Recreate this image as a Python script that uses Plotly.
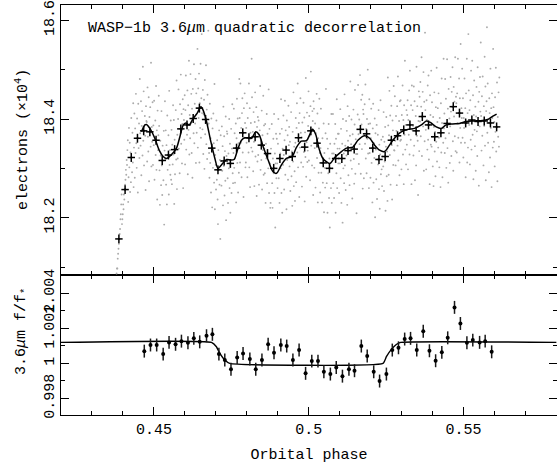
import numpy as np
import plotly.graph_objects as go

# ---------------- data ----------------
bin_phase = [0.4387, 0.4407, 0.4427, 0.4447, 0.4467, 0.4487, 0.4507, 0.4527, 0.4547, 0.4567,
             0.4587, 0.4607, 0.4627, 0.4647, 0.4667, 0.4687, 0.4707, 0.4727, 0.4747, 0.4767,
             0.4787, 0.4807, 0.4827, 0.4847, 0.4867, 0.4887, 0.4907, 0.4927, 0.4947, 0.4967,
             0.4987, 0.5007, 0.5027, 0.5047, 0.5067, 0.5087, 0.5107, 0.5127, 0.5147, 0.5167,
             0.5187, 0.5207, 0.5227, 0.5247, 0.5267, 0.5287, 0.5307, 0.5327, 0.5347, 0.5367,
             0.5387, 0.5407, 0.5427, 0.5447, 0.5467, 0.5487, 0.5507, 0.5527, 0.5547, 0.5567,
             0.5587, 0.5607]
bin_flux = [18.157, 18.257, 18.322, 18.361, 18.376, 18.374, 18.357, 18.316, 18.327, 18.338,
            18.380, 18.388, 18.401, 18.422, 18.399, 18.341, 18.297, 18.315, 18.310, 18.341,
            18.372, 18.362, 18.364, 18.347, 18.330, 18.300, 18.320, 18.337, 18.324, 18.362,
            18.343, 18.376, 18.351, 18.311, 18.300, 18.320, 18.320, 18.336, 18.339, 18.379,
            18.370, 18.341, 18.318, 18.324, 18.357, 18.366, 18.378, 18.388, 18.376, 18.405,
            18.388, 18.364, 18.372, 18.391, 18.425, 18.412, 18.392, 18.398, 18.395, 18.396,
            18.392, 18.384]

curve_phase = [0.4460, 0.4471, 0.4476, 0.4487, 0.4503, 0.4517, 0.4530, 0.4541, 0.4557, 0.4573,
               0.4584, 0.4595, 0.4603, 0.4614, 0.4627, 0.4640, 0.4652, 0.4659, 0.4670, 0.4684,
               0.4697, 0.4707, 0.4718, 0.4735, 0.4748, 0.4759, 0.4770, 0.4783, 0.4794, 0.4815,
               0.4829, 0.4840, 0.4853, 0.4869, 0.4885, 0.4896, 0.4912, 0.4928, 0.4947, 0.4960,
               0.4976, 0.4993, 0.5003, 0.5012, 0.5023, 0.5033, 0.5046, 0.5068, 0.5084, 0.5100,
               0.5122, 0.5143, 0.5159, 0.5181, 0.5197, 0.5213, 0.5229, 0.5245, 0.5261, 0.5277,
               0.5299, 0.5320, 0.5342, 0.5364, 0.5380, 0.5393, 0.5412, 0.5428, 0.5444, 0.5465,
               0.5487, 0.5509, 0.5535, 0.5562, 0.5578, 0.5595, 0.5607]
curve_flux = [18.374, 18.388, 18.389, 18.381, 18.361, 18.337, 18.324, 18.320, 18.328, 18.341,
              18.364, 18.388, 18.392, 18.388, 18.401, 18.412, 18.425, 18.418, 18.395, 18.354,
              18.320, 18.300, 18.307, 18.318, 18.317, 18.318, 18.337, 18.357, 18.362, 18.361,
              18.374, 18.368, 18.344, 18.317, 18.293, 18.290, 18.307, 18.320, 18.324, 18.342,
              18.355, 18.356, 18.368, 18.379, 18.368, 18.341, 18.320, 18.310, 18.322, 18.331,
              18.341, 18.343, 18.357, 18.366, 18.361, 18.347, 18.337, 18.334, 18.347, 18.361,
              18.374, 18.379, 18.381, 18.388, 18.396, 18.393, 18.384, 18.381, 18.388, 18.390,
              18.391, 18.395, 18.396, 18.397, 18.399, 18.406, 18.410]

# individual frames: offsets from the bin value, in units of 0.01 (x 10^4 electrons)
dot_offsets = [
    "-9 -8 -7 -6 -6 -4 -3 -2 -1 0 1 2 4 5 7 9",
    "-7 -6 -5 -3 -4 -1 -2 0 1 2 4 3 6 5 8 10",
    "-9 -4 6 -2 3 -7 1 -5 8 0 -3 5 -1 11 -6 2",
    "5 -8 2 -3 9 -1 -6 4 0 -11 7 -2 3 -4 12 1",
    "-3 6 -9 1 4 -5 13 -2 8 -7 0 3 -1 -12 5 2",
    "2 -6 9 -1 -4 7 -10 3 0 5 -3 14 -7 1 -2 6",
    "-5 3 -1 8 -8 0 4 -3 11 -6 2 -12 6 -2 1 9",
    "7 -2 -9 4 1 -5 10 -1 -7 3 0 -4 6 -13 2 12",
    "-1 5 -6 2 -10 8 -3 0 4 -8 13 -2 1 -4 7 -5",
    "4 -7 1 -3 9 -1 6 -11 2 -5 0 8 -2 14 -8 3",
    "-6 2 8 -4 0 -9 5 -1 11 -3 3 -7 1 6 -12 4",
    "1 -3 6 -8 3 10 -5 0 -2 7 -10 4 -1 13 -6 2",
    "-4 9 -1 5 -7 2 -12 6 0 -3 11 -5 3 -1 8 -9",
    "3 -5 0 12 -8 4 -2 7 -11 1 -4 9 -6 2 15 -1",
    "-2 6 -7 1 4 -10 8 -3 0 11 -5 2 -8 5 -1 18",
    "5 -1 -6 9 -3 2 -9 6 0 -12 4 -4 7 1 -7 13",
    "-8 3 1 -4 10 -2 6 -6 -11 4 0 8 -3 2 -14 7",
    "0 -5 7 -2 3 -9 11 -1 5 -7 2 -4 9 -12 1 6",
    "6 -3 -8 2 -1 9 -5 4 -10 0 7 -6 3 12 -2 -4",
    "-1 8 -4 3 -7 0 5 -11 2 10 -3 6 -9 1 -5 14",
    "3 -6 10 -2 1 -9 4 7 -4 0 -13 5 -1 8 2 -7",
    "-5 2 -1 7 -8 4 0 -3 11 -6 6 -10 1 3 -2 16",
    "8 -3 1 -7 5 -1 -10 3 9 -4 0 6 -12 2 -5 4",
    "-2 5 -8 0 3 12 -5 1 -3 7 -9 2 -1 10 -6 4",
    "1 -4 6 -10 2 -1 8 -6 4 0 -3 13 -8 5 -2 -11",
    "-7 4 0 9 -3 -8 2 6 -1 11 -5 3 -12 1 7 -2",
    "4 -1 -6 3 8 -4 0 -9 5 1 -2 12 -7 6 -11 2",
    "-3 7 -1 -8 2 10 -5 4 0 -12 6 -2 3 -6 9 1",
    "6 -2 3 -7 0 9 -4 1 -10 5 -1 13 -6 2 -3 -9",
    "-1 4 -9 2 7 -3 11 -6 0 3 -12 5 -2 8 1 -5",
    "2 -8 5 0 -4 9 -1 6 -11 3 -2 14 -6 1 7 -3",
    "-4 1 8 -6 3 -1 -10 5 12 -3 0 -7 4 2 -13 6",
    "7 -5 -1 4 -9 2 0 10 -3 6 -12 1 -6 3 9 -2",
    "-6 3 11 -2 0 -8 5 -4 1 8 -10 2 -1 -5 6 15",
    "0 -3 6 -9 4 -1 9 -6 2 -12 5 0 -4 11 -7 3",
    "-2 9 -5 1 -8 3 0 7 -11 4 -3 12 -6 2 5 -1",
    "5 -7 2 -1 10 -4 6 -9 0 3 -13 8 -2 1 -5 13",
    "-3 1 -8 6 -1 4 -11 9 2 -5 0 7 -7 3 14 -2",
    "1 6 -4 -10 3 0 8 -2 -7 5 12 -5 2 -1 -13 4",
    "-5 3 9 -1 -7 2 -3 11 0 -9 6 1 -4 7 -12 4",
    "4 -9 0 6 -2 10 -5 1 -8 3 -1 13 -4 2 -11 7",
    "-1 5 -6 2 8 -3 0 -11 4 9 -7 1 -2 6 -14 3",
    "2 -4 7 -8 0 5 -1 10 -6 3 -10 1 12 -3 4 -2",
    "-6 0 4 -2 9 -7 3 -1 6 -11 2 8 -4 1 -9 16",
    "3 -7 1 10 -3 5 -9 0 7 -1 -12 4 2 -5 11 -2",
    "-3 8 -1 -6 4 1 -10 6 -2 12 -5 0 3 -8 7 -1",
    "6 -2 -8 3 0 9 -5 2 -11 5 -1 14 -4 1 -7 4",
    "-4 2 5 -9 1 -2 7 -6 11 0 -3 4 -12 8 -1 3",
    "1 -5 9 -3 6 -10 0 3 -7 13 -1 5 -2 -13 2 8",
    "-7 4 -1 7 -4 2 12 -8 0 5 -2 9 -11 3 -5 17",
    "3 -1 -9 5 1 -5 8 -3 10 -7 0 -12 6 2 -4 11",
    "-2 7 0 -6 4 -10 2 9 -3 1 -8 6 -1 14 -5 3",
    "5 -3 8 -1 -7 3 0 -11 6 -4 11 2 -9 1 -2 15",
    "-1 2 -6 9 -3 5 -9 0 13 -5 3 -12 7 -2 1 -8",
    "-4 6 -1 -10 3 0 8 -7 -13 4 -2 1 -6 10 -9 2",
    "2 -8 4 -2 11 -5 0 7 -10 3 -3 14 -6 1 -1 9",
    "-3 5 -7 1 -1 9 -4 3 -11 6 0 13 -8 2 -5 18",
    "6 -1 2 -9 4 -4 10 -6 0 12 -3 5 -12 1 8 -2",
    "-5 3 -10 1 7 -2 -7 11 0 4 -13 6 -1 9 2 16",
    "1 -6 5 -3 9 0 -9 3 -1 13 -5 7 -12 2 4 19",
    "-2 8 -4 0 -10 5 2 -7 11 -1 3 -13 6 1 -5 15",
    "4 -3 1 -8 6 -1 12 -5 0 9 -11 2 -2 7 -4 10",
]

ecl_phase = [0.4469, 0.4489, 0.4509, 0.4530, 0.4549, 0.4570, 0.4589, 0.4610, 0.4629, 0.4648,
             0.4670, 0.4689, 0.4710, 0.4729, 0.4749, 0.4769, 0.4788, 0.4810, 0.4829, 0.4849,
             0.4869, 0.4888, 0.4910, 0.4929, 0.4949, 0.4969, 0.4990, 0.5010, 0.5030, 0.5049,
             0.5070, 0.5089, 0.5109, 0.5130, 0.5148, 0.5170, 0.5189, 0.5210, 0.5229, 0.5251,
             0.5270, 0.5290, 0.5310, 0.5329, 0.5349, 0.5370, 0.5390, 0.5410, 0.5430, 0.5449,
             0.5471, 0.5490, 0.5511, 0.5530, 0.5552, 0.5570, 0.5591]
ecl_flux = [1.00070, 1.00105, 1.00105, 1.00053, 1.00120, 1.00109, 1.00127, 1.00118, 1.00143, 1.00123,
            1.00158, 1.00166, 1.00053, 1.00019, 0.99966, 1.00034, 1.00057, 1.00025, 0.99967, 1.00019,
            1.00110, 1.00061, 1.00105, 1.00099, 1.00019, 1.00076, 0.99943, 1.00013, 1.00013, 0.99952,
            0.99939, 0.99977, 0.99927, 0.99966, 0.99958, 1.00099, 1.00042, 0.99952, 0.99899, 0.99939,
            1.00076, 1.00089, 1.00139, 1.00143, 1.00076, 1.00184, 1.00072, 1.00015, 1.00063, 1.00146,
            1.00320, 1.00228, 1.00118, 1.00133, 1.00120, 1.00127, 1.00066]
ecl_err = 0.00037

model_phase = [0.42, 0.4686, 0.4702, 0.4713, 0.4729, 0.4745, 0.5240, 0.5251, 0.5267, 0.5283, 0.5297, 0.58]
model_flux = [1.0012, 1.0012, 1.00095, 1.00057, 1.00019, 1.0000, 1.0000, 1.00038, 1.00080, 1.00108, 1.0012, 1.0012]

# ---------------- build individual frame positions ----------------
dot_x, dot_y = [], []
for ph, fl, s in zip(bin_phase, bin_flux, dot_offsets):
    offs = [float(v) for v in s.split()]
    n = len(offs)
    xs = np.linspace(ph - 0.001, ph + 0.001, n, endpoint=False)
    dot_x.extend(xs.tolist())
    dot_y.extend([fl + 0.01 * o for o in offs])

FONT = "Liberation Mono"

fig = go.Figure()
fig.add_trace(go.Scatter(x=dot_x, y=dot_y, mode="markers", xaxis="x2", yaxis="y2",
                         marker=dict(size=1.9, color="#ababab"), hoverinfo="skip"))
fig.add_trace(go.Scatter(x=curve_phase, y=curve_flux, mode="lines", xaxis="x2", yaxis="y2",
                         line=dict(color="black", width=1.5, shape="spline", smoothing=0.8)))
fig.add_trace(go.Scatter(x=bin_phase, y=bin_flux, mode="markers", xaxis="x2", yaxis="y2",
                         marker=dict(size=2, color="black"),
                         error_y=dict(type="constant", value=0.009, width=0, thickness=1.5, color="black"),
                         error_x=dict(type="constant", value=0.0012, width=0, thickness=1.5, color="black")))

fig.add_trace(go.Scatter(x=model_phase, y=model_flux, mode="lines", xaxis="x", yaxis="y",
                         line=dict(color="black", width=1.4, shape="spline", smoothing=0.4)))
fig.add_trace(go.Scatter(x=ecl_phase, y=ecl_flux, mode="markers", xaxis="x", yaxis="y",
                         marker=dict(size=4, color="black"),
                         error_y=dict(type="constant", value=ecl_err, width=0, thickness=1.5, color="#1a1a1a")))

axis_common = dict(showline=True, linecolor="black", linewidth=1.2, mirror="allticks",
                   ticks="inside", tickcolor="black", tickwidth=1, showgrid=False, zeroline=False,
                   tickfont=dict(family=FONT, size=15, color="black"))

dom_split = 140 / 410
fig.update_layout(
    width=557, height=466,
    margin=dict(l=61, r=0, t=5, b=51),
    paper_bgcolor="white", plot_bgcolor="white",
    showlegend=False,
    font=dict(family=FONT, size=15, color="black"),
    xaxis=dict(**axis_common, range=[0.42, 0.5802], domain=[0, 1], anchor="y",
               tickvals=[0.45, 0.5, 0.55], ticktext=["0.45", "0.5", "0.55"], ticklen=8,
               minor=dict(dtick=0.01, tick0=0, ticklen=4, ticks="inside", tickcolor="black"),
               title=dict(text="Orbital phase", font=dict(family=FONT, size=15), standoff=10)),
    yaxis=dict(**axis_common, range=[0.99705, 1.00505], domain=[0, dom_split], anchor="x",
               tickvals=[0.998, 1.0, 1.002, 1.004], ticktext=["0.998", "1", "1.002", "1.004"],
               ticklen=8, tickangle=-90,
               minor=dict(dtick=0.001, tick0=0.998, ticklen=4, ticks="inside", tickcolor="black")),
    xaxis2=dict(**axis_common, range=[0.42, 0.5802], domain=[0, 1], anchor="y2", matches="x",
                tickvals=[0.45, 0.5, 0.55], showticklabels=False, ticklen=8,
                minor=dict(dtick=0.01, tick0=0, ticklen=4, ticks="inside", tickcolor="black")),
    yaxis2=dict(**axis_common, range=[18.0839, 18.631], domain=[dom_split, 1], anchor="x2",
                tickvals=[18.2, 18.4, 18.6], ticktext=["18.2", "18.4", "18.6"],
                ticklen=8, tickangle=-90,
                minor=dict(dtick=0.1, tick0=18.0, ticklen=4, ticks="inside", tickcolor="black")),
    annotations=[
        dict(text="WASP\u22121b 3.6<i>\u03bc</i>m quadratic decorrelation", xref="paper", yref="paper",
             x=(86 - 61) / 496, y=1 - 23 / 410, xanchor="left", yanchor="middle", showarrow=False,
             font=dict(family=FONT, size=15, color="black")),
        dict(text="electrons (\u00d710<sup>4</sup>)", xref="paper", yref="paper",
             x=(22 - 61) / 496, y=(415 - 140) / 410, xanchor="center", yanchor="middle",
             textangle=-90, showarrow=False, font=dict(family=FONT, size=15, color="black")),
        dict(text="3.6<i>\u03bc</i>m f/f<sub>*</sub>", xref="paper", yref="paper",
             x=(22 - 61) / 496, y=(415 - 332) / 410, xanchor="center", yanchor="middle",
             textangle=-90, showarrow=False, font=dict(family=FONT, size=15, color="black")),
    ],
)

fig.write_html("out.html")
